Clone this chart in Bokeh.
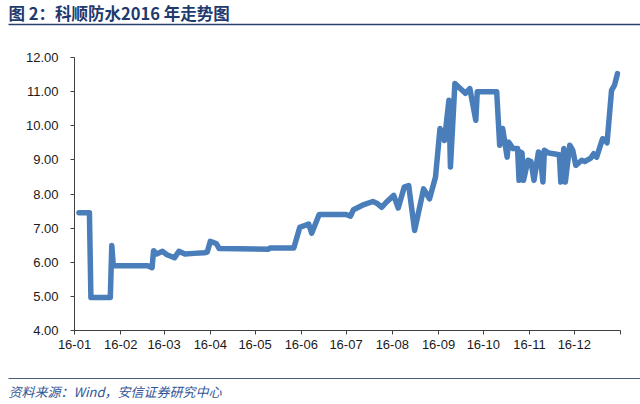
from bokeh.plotting import figure
from bokeh.layouts import column
from bokeh.models import Range1d, FixedTicker, NumeralTickFormatter
from bokeh.core.properties import value
from bokeh.embed import file_html
from bokeh.resources import INLINE
import pandas as pd

title_text = "图 2：科顺防水2016 年走势图"
source_text = "资料来源：Wind，安信证券研究中心"

dates = [
    "2016-01-04", "2016-01-11", "2016-01-12", "2016-01-25", "2016-01-26", "2016-01-27",
    "2016-02-19", "2016-02-22", "2016-02-23", "2016-02-25", "2016-02-29", "2016-03-03",
    "2016-03-08", "2016-03-11", "2016-03-15", "2016-03-21", "2016-03-28", "2016-03-30",
    "2016-04-01", "2016-04-05", "2016-04-07", "2016-05-10", "2016-05-11", "2016-05-27",
    "2016-05-31", "2016-06-06", "2016-06-08", "2016-06-13", "2016-07-01", "2016-07-04",
    "2016-07-06", "2016-07-13", "2016-07-19", "2016-07-22", "2016-07-25", "2016-07-28",
    "2016-08-02", "2016-08-05", "2016-08-09", "2016-08-12", "2016-08-16", "2016-08-22",
    "2016-08-26", "2016-08-30", "2016-09-02", "2016-09-05", "2016-09-08", "2016-09-09",
    "2016-09-12", "2016-09-19", "2016-09-22", "2016-09-26", "2016-09-27", "2016-10-10",
    "2016-10-12", "2016-10-14", "2016-10-17", "2016-10-18", "2016-10-21", "2016-10-24",
    "2016-10-25", "2016-10-26", "2016-10-27", "2016-10-28", "2016-10-31", "2016-11-02",
    "2016-11-04", "2016-11-07", "2016-11-08", "2016-11-10", "2016-11-11", "2016-11-14",
    "2016-11-17", "2016-11-21", "2016-11-22", "2016-11-24", "2016-11-25", "2016-11-28",
    "2016-11-30", "2016-12-02", "2016-12-06", "2016-12-08", "2016-12-12", "2016-12-14",
    "2016-12-16", "2016-12-20", "2016-12-22", "2016-12-23", "2016-12-26", "2016-12-28",
    "2016-12-30",
]
prices = [
    7.45, 7.45, 4.97, 4.97, 6.49, 5.90,
    5.90, 5.84, 6.34, 6.24, 6.32, 6.22,
    6.13, 6.32, 6.24, 6.26, 6.28, 6.30,
    6.61, 6.55, 6.40, 6.38, 6.42, 6.42,
    7.02, 7.12, 6.85, 7.40, 7.40, 7.35,
    7.54, 7.69, 7.78, 7.72, 7.61, 7.76,
    7.96, 7.59, 8.20, 8.25, 6.93, 8.15,
    7.86, 8.50, 9.92, 9.57, 10.75, 8.79,
    11.24, 10.95, 11.09, 10.16, 11.00, 11.00,
    9.43, 9.92, 9.08, 9.52, 9.33, 9.33,
    8.40, 9.23, 9.20, 8.40, 8.99, 8.95,
    8.40, 9.23, 9.20, 8.35, 9.28, 9.20,
    9.18, 9.15, 8.35, 9.33, 8.35, 9.43,
    9.28, 8.84, 8.99, 8.95, 9.05, 9.18,
    9.08, 9.62, 9.57, 9.50, 11.04, 11.19,
    11.53,
]
y_ticks = [4, 5, 6, 7, 8, 9, 10, 11, 12]
month_ticks = [
    "2016-01-01", "2016-02-01", "2016-03-01", "2016-04-01", "2016-05-01", "2016-06-01",
    "2016-07-01", "2016-08-01", "2016-09-01", "2016-10-01", "2016-11-01", "2016-12-01",
    "2017-01-01",
]
month_labels = [
    "16-01", "16-02", "16-03", "16-04", "16-05", "16-06",
    "16-07", "16-08", "16-09", "16-10", "16-11", "16-12", "",
]


def ms(d):
    return float(pd.Timestamp(d).value // 10**6)


W = 640
TOP_H, MAIN_H, BOT_H = 28, 338, 38


def strip(h):
    f = figure(width=W, height=h, output_backend="svg", toolbar_location=None,
               x_range=Range1d(0, W), y_range=Range1d(h, 0),
               x_axis_location=None, y_axis_location=None,
               min_border=0, min_border_left=0, min_border_right=0,
               min_border_top=0, min_border_bottom=0)
    f.frame_align = False
    f.grid.visible = False
    f.outline_line_color = None
    f.background_fill_color = "white"
    f.border_fill_color = "white"
    return f


top = strip(TOP_H)
top.text(x=[8], y=[12], text=[title_text], text_font=value("Noto Sans CJK SC"),
         text_font_style="bold", text_font_size="16.5px", text_color="#1F3A6E",
         text_baseline="middle", text_align="left")
top.line([8, W], [24, 24], line_color="#2B3F6B", line_width=1.5)

p = figure(width=W, height=MAIN_H, x_axis_type="datetime", output_backend="svg",
           toolbar_location=None,
           x_range=Range1d(ms(month_ticks[0]), ms(month_ticks[-1])),
           y_range=Range1d(4, 12),
           min_border_left=74, min_border_right=20, min_border_top=29, min_border_bottom=36)
p.frame_align = False
p.background_fill_color = "white"
p.border_fill_color = "white"
p.outline_line_color = None
p.xgrid.visible = False
p.ygrid.visible = False

p.line([ms(d) for d in dates], prices, line_color="#4A7EBB", line_width=5.5,
       line_join="round", line_cap="round")

tick_ms = [ms(d) for d in month_ticks]
p.xaxis.ticker = FixedTicker(ticks=tick_ms, minor_ticks=[])
p.xaxis.major_label_overrides = {t: lab for t, lab in zip(tick_ms, month_labels)}
p.yaxis.ticker = FixedTicker(ticks=y_ticks, minor_ticks=[])
p.yaxis.formatter = NumeralTickFormatter(format="0.00")

for ax in (p.xaxis[0], p.yaxis[0]):
    ax.axis_line_color = "#404040"
    ax.axis_line_width = 1
    ax.major_tick_line_color = "#404040"
    ax.major_tick_in = 0
    ax.major_tick_out = 4
    ax.minor_tick_line_color = None
    ax.major_label_text_font = "Liberation Sans"
    ax.major_label_text_font_size = "13px"
    ax.major_label_text_color = "#1a1a1a"
p.xaxis.major_label_standoff = 5
p.yaxis.major_label_standoff = 12

bot = strip(BOT_H)
bot.line([8, W], [12, 12], line_color="#4A5A7A", line_width=1)
bot.text(x=[8], y=[25], text=[source_text], text_font=value("Noto Sans CJK SC"),
         text_font_style="italic", text_font_size="13px", text_color="#2F5597",
         text_baseline="middle", text_align="left")

layout = column(top, p, bot, spacing=0)
open("out.html", "w").write(file_html(layout, INLINE))
